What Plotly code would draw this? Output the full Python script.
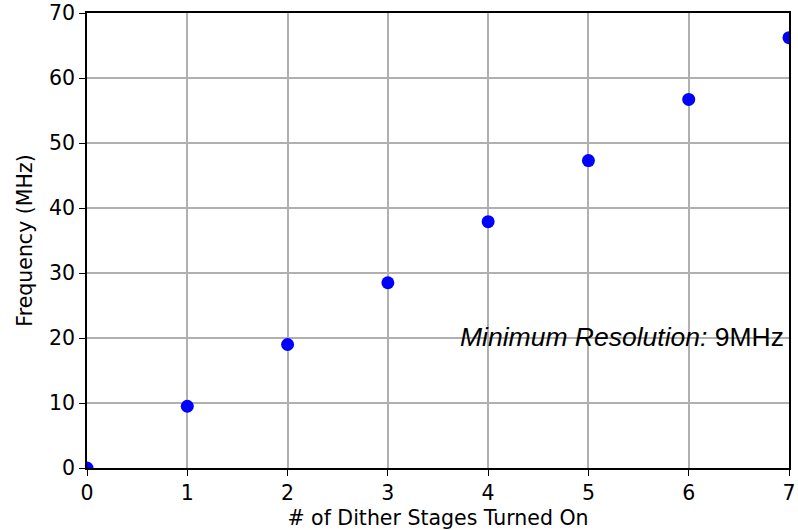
import plotly.graph_objects as go

stages = [0, 1, 2, 3, 4, 5, 6, 7]
freq_mhz = [0.0, 9.5, 19.0, 28.5, 37.9, 47.3, 56.7, 66.2]
x_ticks = [0, 1, 2, 3, 4, 5, 6, 7]
y_ticks = [0, 10, 20, 30, 40, 50, 60, 70]

fig = go.Figure()
fig.add_trace(go.Scatter(
    x=stages, y=freq_mhz, mode="markers",
    marker=dict(color="#0000ff", size=13, line=dict(width=0)),
    cliponaxis=True, showlegend=False,
))

axis_common = dict(
    showgrid=True, gridcolor="#b0b0b0", gridwidth=1.5,
    showline=True, linecolor="black", linewidth=1.5, mirror=True,
    ticks="outside", ticklen=6, tickwidth=1.3, tickcolor="black",
    zeroline=False, automargin=False,
    tickfont=dict(family="DejaVu Sans", size=20.5, color="black"),
)

fig.update_xaxes(
    range=[0, 7], tickvals=x_ticks, ticktext=[str(v) for v in x_ticks],
    title=dict(text="# of Dither Stages Turned On", standoff=10,
               font=dict(family="DejaVu Sans", size=20.5, color="black")),
    **axis_common,
)
fig.update_yaxes(
    range=[0, 70], tickvals=y_ticks, ticktext=[str(v) for v in y_ticks],
    title=dict(text="Frequency (MHz)", standoff=11,
               font=dict(family="DejaVu Sans", size=20.5, color="black")),
    **axis_common,
)

fig.add_annotation(
    x=6.95, y=20, xref="x", yref="y", xanchor="right", yanchor="middle",
    xshift=2, yshift=1,
    text="<i>Minimum Resolution:</i> 9MHz", showarrow=False,
    font=dict(family="Liberation Sans", size=26.5, color="black"),
)

fig.update_layout(
    width=798, height=530,
    margin=dict(l=87, r=9, t=13, b=62),
    plot_bgcolor="white", paper_bgcolor="white",
)

fig.write_html("out.html")
